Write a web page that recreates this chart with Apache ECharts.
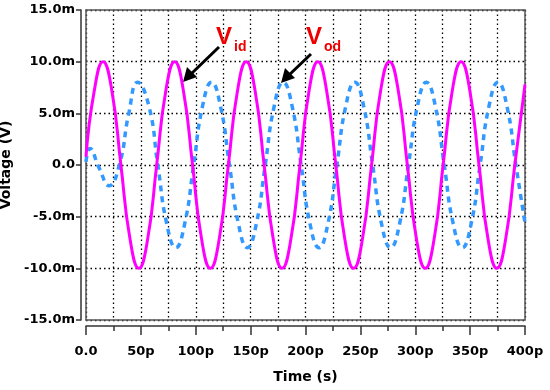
<!DOCTYPE html>
<html>
<head>
<meta charset="utf-8">
<script src="https://cdn.jsdelivr.net/npm/echarts@6/dist/echarts.min.js"></script>
<style>html,body{margin:0;padding:0;background:#fff}#c{width:550px;height:390px}</style>
</head>
<body>
<div id="c"></div>
<script>
// Time in ps, voltage in mV
const vid = [[0,0.8],[7.4,7.1],[15.5,10],[23.7,7.1],[31.8,0],[40.0,-7.1],[48.1,-10],[56.3,-7.1],[64.4,0],[72.6,7.1],[80.8,10],[88.9,7.1],[97.1,0],[105.2,-7.1],[113.4,-10],[121.5,-7.1],[129.7,0],[137.9,7.1],[146.0,10],[154.2,7.1],[162.3,0],[170.5,-7.1],[178.6,-10],[186.8,-7.1],[195.0,0],[203.1,7.1],[211.3,10],[219.4,7.1],[227.6,0],[235.7,-7.1],[243.9,-10],[252.0,-7.1],[260.2,0],[268.3,7.1],[276.5,10],[284.7,7.1],[292.8,0],[301.0,-7.1],[309.1,-10],[317.3,-7.1],[325.4,0],[333.6,7.1],[341.8,10],[349.9,7.1],[358.1,0],[366.2,-7.1],[374.4,-10],[382.5,-7.1],[390.7,0],[400,7.8]];
const vod = [[0,0.3],[3.6,1.6],[12,-0.3],[21,-2.0],[30.4,0],[39,5.0],[47,8],[57.3,5.7],[65.4,0],[73.6,-5.7],[81.8,-8],[89.9,-5.7],[98.1,0],[106.2,5.7],[114.4,8],[122.5,5.7],[130.7,0],[138.9,-5.7],[147.0,-8],[155.2,-5.7],[163.3,0],[171.5,5.7],[179.6,8],[187.8,5.7],[196.0,0],[204.1,-5.7],[212.3,-8],[220.4,-5.7],[228.6,0],[236.7,5.7],[244.9,8],[253.0,5.7],[261.2,0],[269.3,-5.7],[277.5,-8],[285.7,-5.7],[293.8,0],[302.0,5.7],[310.1,8],[318.3,5.7],[326.4,0],[334.6,-5.7],[342.8,-8],[350.9,-5.7],[359.1,0],[367.2,5.7],[375.4,8],[383.5,5.7],[391.7,0],[400,-5.6]];
const xTicks = [0,50,100,150,200,250,300,350,400];
const yTicks = [-15,-10,-5,0,5,10,15];
const xName = 'Time (s)';
const yName = 'Voltage (V)';

const W = 550, H = 390;
const G = {left:86, right:25, top:10, bottom:70};
const xMin = xTicks[0], xMax = xTicks[xTicks.length-1];
const yMin = yTicks[0], yMax = yTicks[yTicks.length-1];
const fmtX = v => v === 0 ? '0.0' : v + 'p';
const fmtY = v => v === 0 ? '0.0' : v.toFixed(1) + 'm';
const font = 'DejaVu Sans';
const dotted = {color:'#000', width:1.3, type:[1.5,3]};
const axisCol = '#333333';
const frameCol = '#555555';

function lineAxis(gridIndex, position, min, max, color) {
  return {type:'value', gridIndex, position, min, max, offset:0,
    axisLine:{show:true, onZero:false, lineStyle:{color:color, width:1.5}},
    axisTick:{show:false}, axisLabel:{show:false}, splitLine:{show:false}};
}
function tickAxis(gridIndex, position, min, max, interval, len, minor) {
  return {type:'value', gridIndex, position, min, max, interval, offset:0,
    axisLine:{show:false, onZero:false},
    axisTick:{show:true, inside:false, length:len, lineStyle:{color:axisCol, width:1.5}},
    minorTick:{show:minor, splitNumber:2, length:5, lineStyle:{color:axisCol, width:1.5}},
    axisLabel:{show:false}, splitLine:{show:false}};
}
function hiddenAxis(gridIndex, min, max) {
  return {type:'value', gridIndex, min, max, show:false};
}

const chart = echarts.init(document.getElementById('c'), null, {renderer:'canvas'});
chart.setOption({
  animation:false,
  backgroundColor:'#fff',
  grid:[
    {left:G.left, right:G.right, top:G.top, bottom:G.bottom, containLabel:false, outerBoundsMode:'none'},
    {left:G.left, right:G.right, top:G.top, bottom:G.bottom - 6, containLabel:false, outerBoundsMode:'none'},
    {left:G.left - 5, right:G.right, top:G.top, bottom:G.bottom, containLabel:false, outerBoundsMode:'none'}
  ],
  xAxis:[
    Object.assign(lineAxis(0, 'bottom', xMin, xMax, frameCol), {
      interval:50,
      minorTick:{show:false, splitNumber:2},
      splitLine:{show:true, lineStyle:dotted},
      minorSplitLine:{show:true, lineStyle:dotted}
    }),
    lineAxis(0, 'top', xMin, xMax, frameCol),
    {
      type:'value', gridIndex:1, position:'bottom', min:xMin, max:xMax, interval:50,
      name:xName, nameLocation:'middle', nameGap:44,
      nameTextStyle:{fontFamily:font, fontWeight:'bold', fontSize:14, color:'#000'},
      axisLine:{show:false}, axisTick:{show:false}, splitLine:{show:false},
      axisLabel:{formatter:fmtX, margin:19, fontFamily:font, fontWeight:'bold', fontSize:13, color:'#000'}
    },
    lineAxis(1, 'bottom', xMin, xMax, axisCol),
    tickAxis(1, 'bottom', xMin, xMax, 50, 9, true),
    hiddenAxis(2, xMin, xMax)
  ],
  yAxis:[
    Object.assign(lineAxis(0, 'left', yMin, yMax, frameCol), {
      interval:5, splitLine:{show:true, lineStyle:dotted}
    }),
    lineAxis(0, 'right', yMin, yMax, frameCol),
    hiddenAxis(1, yMin, yMax),
    {
      type:'value', gridIndex:2, position:'left', min:yMin, max:yMax, interval:5,
      name:yName, nameLocation:'middle', nameGap:57, nameRotate:90,
      nameTextStyle:{fontFamily:font, fontWeight:'bold', fontSize:14, color:'#000'},
      axisLine:{show:false}, axisTick:{show:false}, splitLine:{show:false},
      axisLabel:{formatter:fmtY, margin:6, fontFamily:font, fontWeight:'bold', fontSize:13, color:'#000'}
    },
    lineAxis(2, 'left', yMin, yMax, axisCol),
    tickAxis(2, 'left', yMin, yMax, 5, 5, false)
  ],
  series:[
    {name:'Vod', type:'line', data:vod, xAxisIndex:0, yAxisIndex:0, smooth:true, showSymbol:false, clip:true,
     lineStyle:{color:'#3399ff', width:3.5, type:[6,5]}},
    {name:'Vid', type:'line', data:vid, xAxisIndex:0, yAxisIndex:0, smooth:true, showSymbol:false, clip:true,
     lineStyle:{color:'#ff00ff', width:3}}
  ]
});

// Annotations
const els = [
  {type:'line', shape:{x1:219,y1:47,x2:190,y2:75}, style:{stroke:'#000', lineWidth:3}},
  {type:'polygon', shape:{points:[[183,82],[187,67],[197,77]]}, style:{fill:'#000'}},
  {type:'line', shape:{x1:311,y1:54,x2:288,y2:76}, style:{stroke:'#000', lineWidth:3}},
  {type:'polygon', shape:{points:[[281,83],[285,68],[295,78]]}, style:{fill:'#000'}},
  {type:'text', x:216, y:37, style:{text:'V', fill:'#ee0000', font:'bold 24px "Liberation Sans"', textVerticalAlign:'middle'}},
  {type:'text', x:234, y:47, style:{text:'id', fill:'#ee0000', font:'bold 14px "Liberation Sans"', textVerticalAlign:'middle'}},
  {type:'text', x:306, y:37, style:{text:'V', fill:'#ee0000', font:'bold 24px "Liberation Sans"', textVerticalAlign:'middle'}},
  {type:'text', x:324, y:47, style:{text:'od', fill:'#ee0000', font:'bold 14px "Liberation Sans"', textVerticalAlign:'middle'}}
];
chart.setOption({graphic: els});
</script>
</body>
</html>
